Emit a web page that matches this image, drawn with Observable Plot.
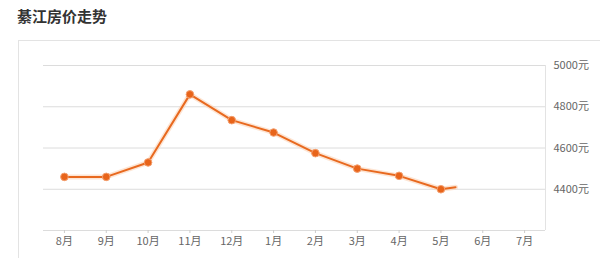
<!DOCTYPE html>
<html><head><meta charset="utf-8">
<script src="https://cdn.jsdelivr.net/npm/d3@7"></script>
<script src="https://cdn.jsdelivr.net/npm/@observablehq/plot@0.6"></script>
<style>
body{margin:0;background:#fff;font-family:"Noto Sans CJK SC","Noto Sans",sans-serif;}
#wrap{position:relative;width:600px;height:258px;overflow:hidden;}
#title{position:absolute;left:17px;top:4px;font-size:15px;font-weight:bold;color:#333;line-height:24px;}
#frame{position:absolute;left:18px;top:40px;width:600px;height:240px;border-left:1px solid #e3e3e3;border-top:1px solid #e3e3e3;}
#chart{position:absolute;left:0;top:40px;}
</style></head>
<body>
<div id="wrap">
<div id="title">綦江房价走势</div>
<div id="frame"></div>
<div id="chart"></div>
</div>
<script>
const months = ["8月","9月","10月","11月","12月","1月","2月","3月","4月","5月","6月","7月"];
const prices = [4460, 4460, 4530, 4860, 4735, 4675, 4575, 4500, 4465, 4400];
const tailIndex = 9.35;
const tailPrice = 4410;
const yTicks = [4400, 4600, 4800, 5000];
const gridLines = [4200, 4400, 4600, 4800, 5000];

const pts = prices.map((v, i) => ({i, v}));
const linePts = pts.concat([{i: tailIndex, v: tailPrice}]);

const plot = Plot.plot({
  width: 600,
  height: 218,
  marginLeft: 43,
  marginRight: 55,
  marginTop: 25,
  marginBottom: 28,
  style: {fontFamily: '"Noto Sans CJK SC","Noto Sans",sans-serif', fontSize: "11px", color: "#666", background: "transparent"},
  x: {domain: [-0.5, 11.5], axis: null},
  y: {domain: [4200, 5000], axis: null},
  marks: [
    Plot.ruleY(gridLines, {stroke: "#dcdcdc", strokeWidth: 1}),
    Plot.ruleX([11.5], {y1: 4200, y2: 5000, stroke: "#e3e3e3"}),
    Plot.axisX({ticks: d3.range(months.length), tickFormat: i => months[i], tickSize: 3, stroke: "#ccc", tickPadding: 4, fill: "#666", fontSize: 11, label: null}),
    Plot.axisY({anchor: "right", ticks: yTicks, tickFormat: d => d + "元", tickSize: 0, tickPadding: 8, fill: "#666", fontSize: 11, label: null}),
    Plot.line(linePts, {x: "i", y: "v", stroke: "#fbd3b8", strokeWidth: 5, strokeOpacity: 0.6}),
    Plot.line(linePts, {x: "i", y: "v", stroke: "#e8691f", strokeWidth: 2}),
    Plot.dot(pts, {x: "i", y: "v", r: 3.8, fill: "#e8641a", stroke: "#f4a070", strokeWidth: 1})
  ]
});
document.getElementById("chart").appendChild(plot);
</script>
</body></html>
